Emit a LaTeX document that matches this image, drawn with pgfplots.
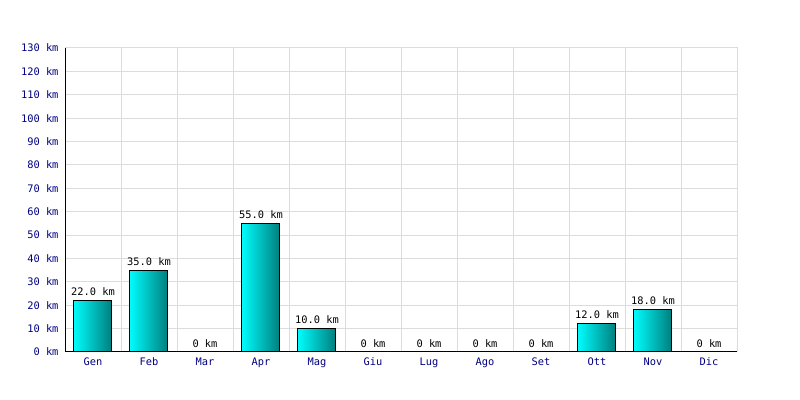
\documentclass[border=0pt]{standalone}
\usepackage{pgfplots}
\pgfplotsset{compat=1.18}
\usepackage{fontspec}
\setmainfont{DejaVu Sans Mono}
\definecolor{navyc}{HTML}{000080}
\definecolor{gridc}{HTML}{DCDCDC}
\definecolor{barl}{HTML}{00FFFF}
\definecolor{barr}{HTML}{008080}
\begin{document}
\begin{tikzpicture}
\fill[white] (0,0) rectangle (800bp,400bp);
\begin{axis}[
  at={(65bp,48bp)}, anchor=south west,
  scale only axis, width=672bp, height=304bp,
  xmin=-0.5, xmax=11.5, ymin=0, ymax=130,
  xtick={0,...,11},
  xticklabels={Gen,Feb,Mar,Apr,Mag,Giu,Lug,Ago,Set,Ott,Nov,Dic},
  minor xtick={-0.5,0.5,...,11.5},
  ytick={0,10,...,130},
  yticklabel={\pgfmathprintnumber{\tick} km},
  /pgf/number format/assume math mode=true,
  tick label style={font=\fontsize{10.4}{12}\selectfont, text=navyc},
  xticklabel style={yshift=-2.5bp},
  yticklabel style={xshift=-3bp},
  major tick length=0pt, minor tick length=0pt,
  ymajorgrids, xminorgrids,
  grid style={gridc, line width=1bp},
  minor grid style={gridc, line width=1bp},
  axis line style={line width=1bp},
  axis x line*=bottom, axis y line*=left,
  every outer x axis line/.append style={black},
  every outer y axis line/.append style={black},
  clip=false,
  nodes near coords,
  point meta=explicit symbolic,
  every node near coord/.append style={font=\fontsize{10.4}{12}\selectfont, text=black, yshift=1bp},
  barsty/.style={ybar, bar width=38bp, bar shift=-1bp, draw=black, line width=1bp, left color=barl, right color=barr, forget plot},
  zerosty/.style={ybar, bar width=38bp, draw=none, fill=none, forget plot},
]
\draw[gridc, line width=1bp] (axis cs:-0.5,130) -- (axis cs:11.5,130) -- (axis cs:11.5,0);
\addplot[barsty] coordinates {(0,22) [22.0 km]};
\addplot[barsty] coordinates {(1,35) [35.0 km]};
\addplot[zerosty] coordinates {(2,0) [0 km]};
\addplot[barsty] coordinates {(3,55) [55.0 km]};
\addplot[barsty] coordinates {(4,10) [10.0 km]};
\addplot[zerosty] coordinates {(5,0) [0 km]};
\addplot[zerosty] coordinates {(6,0) [0 km]};
\addplot[zerosty] coordinates {(7,0) [0 km]};
\addplot[zerosty] coordinates {(8,0) [0 km]};
\addplot[barsty] coordinates {(9,12) [12.0 km]};
\addplot[barsty] coordinates {(10,18) [18.0 km]};
\addplot[zerosty] coordinates {(11,0) [0 km]};
\end{axis}
\end{tikzpicture}
\end{document}
